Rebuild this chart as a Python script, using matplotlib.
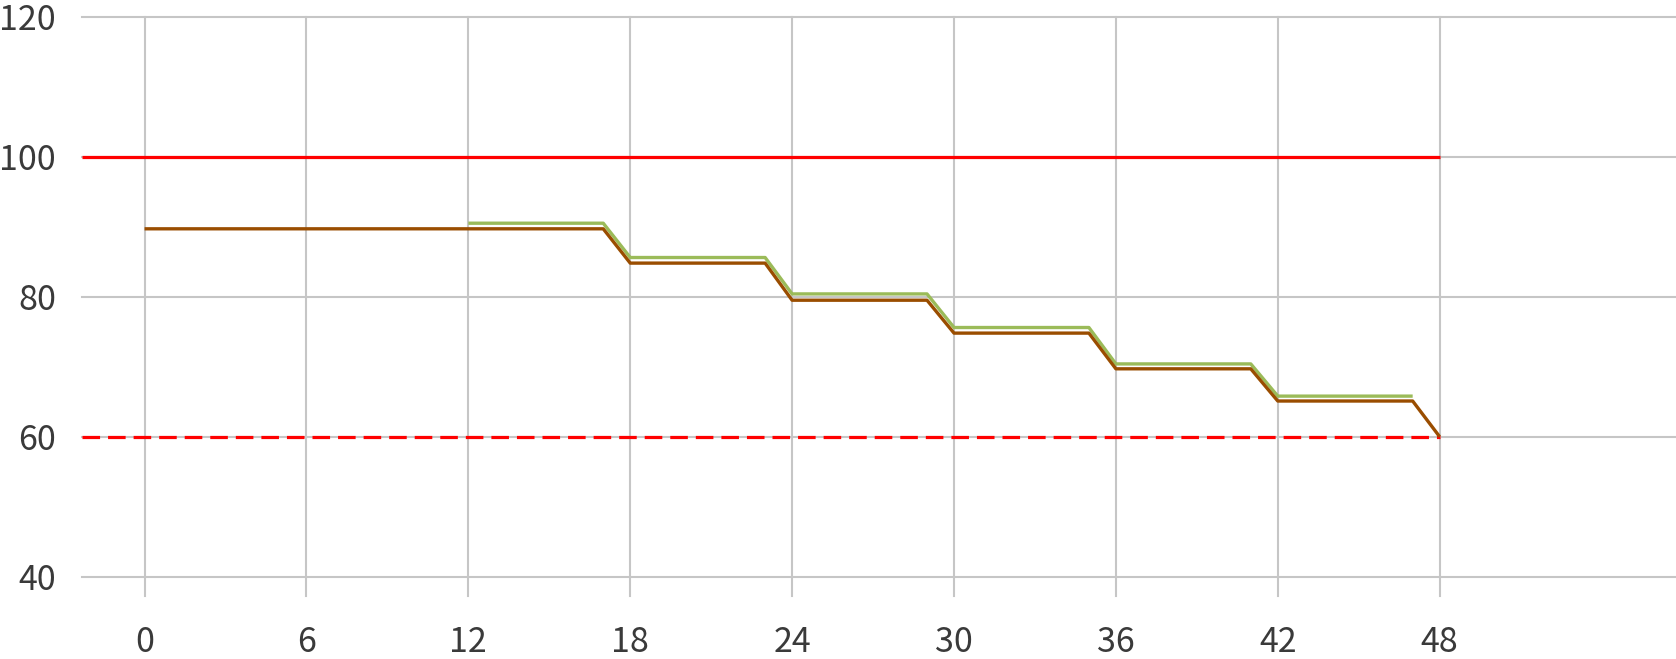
import matplotlib.pyplot as plt

# Chart data
x_ticks = [0, 6, 12, 18, 24, 30, 36, 42, 48]
y_ticks = [40, 60, 80, 100, 120]

limit_x = [-2.33, 48]
upper_limit = [100, 100]
lower_limit = [60, 60]

green_x = [12, 17, 18, 23, 24, 29, 30, 35, 36, 41, 42, 47]
green_y = [90.5, 90.5, 85.6, 85.6, 80.4, 80.4, 75.6, 75.6, 70.4, 70.4, 65.8, 65.8]

brown_x = [0, 17, 18, 23, 24, 29, 30, 35, 36, 41, 42, 47, 48]
brown_y = [89.7, 89.7, 84.8, 84.8, 79.5, 79.5, 74.8, 74.8, 69.7, 69.7, 65.1, 65.1, 60]

plt.rcParams['font.family'] = ['Noto Sans CJK SC', 'DejaVu Sans']
plt.rcParams['font.weight'] = 'light'

W, H = 1676, 659
fig = plt.figure(figsize=(W / 100, H / 100), dpi=100)
# axes box in pixels: left 81.7, right 1676, top 16.7, bottom 595.7
ax = fig.add_axes([81.7 / W, (H - 595.7) / H, (W - 81.7) / W, (595.7 - 16.7) / H])

grid_col = '#C6C6C6'
ax.plot(limit_x, upper_limit, color='#FF0000', lw=2.3, solid_capstyle='butt', zorder=3)
ax.plot(limit_x, lower_limit, color='#FF0000', lw=2.3, dashes=(5.5, 2.5), zorder=3)
ax.plot(green_x, green_y, color='#9BBB59', lw=2.4, solid_capstyle='butt', zorder=4)
ax.plot(brown_x, brown_y, color='#9A4D00', lw=2.4, solid_capstyle='butt', zorder=5)

ax.set_xlim(-2.33, 56.76)
ax.set_ylim(37.29, 120)
ax.set_xticks(x_ticks)
ax.set_yticks(y_ticks)
ax.grid(True, color=grid_col, lw=1.5)
for gl in ax.get_xgridlines() + ax.get_ygridlines():
    gl.set_clip_on(False)

for s in ax.spines.values():
    s.set_visible(False)
ax.tick_params(axis='both', length=0, labelsize=24.5, labelcolor='#3A3A3A')
ax.tick_params(axis='y', pad=18.5)
ax.tick_params(axis='x', pad=40.5)
for lbl in ax.get_xticklabels():
    lbl.set_verticalalignment('baseline')

fig.savefig('out.png', dpi=100)
